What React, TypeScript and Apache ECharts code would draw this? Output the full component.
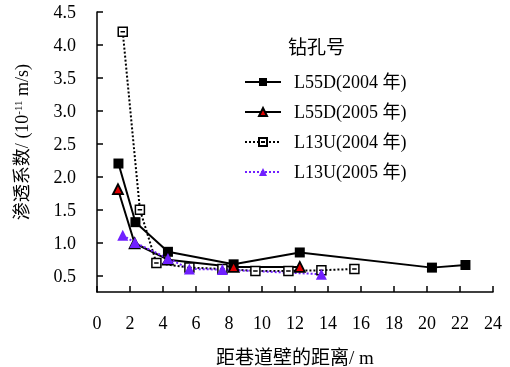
import React, { useEffect, useRef } from "react";
import * as echarts from "echarts";

const xL55D2004 = [1.3, 2.33, 4.3, 8.28, 12.29, 20.3, 22.33];
const yL55D2004 = [2.2, 1.31, 0.86, 0.67, 0.85, 0.62, 0.66];
const xL55D2005 = [1.27, 2.28, 4.3, 8.28, 12.29];
const yL55D2005 = [1.81, 0.99, 0.74, 0.63, 0.63];
const xL13U2004 = [1.56, 2.6, 3.6, 5.6, 7.6, 9.6, 11.6, 13.6, 15.6];
const yL13U2004 = [4.2, 1.5, 0.69, 0.62, 0.6, 0.57, 0.57, 0.58, 0.6];
const xL13U2005 = [1.56, 2.3, 4.3, 5.6, 7.6, 13.6];
const yL13U2005 = [1.11, 1.0, 0.76, 0.6, 0.59, 0.52];

const names = ["L55D(2004 年)", "L55D(2005 年)", "L13U(2004 年)", "L13U(2005 年)"];
const yTicks = [0.5, 1.0, 1.5, 2.0, 2.5, 3.0, 3.5, 4.0, 4.5];

const zip = (xs: number[], ys: number[]) => xs.map((x, i) => [x, ys[i]]);

const FONT = "'Liberation Serif', 'Noto Sans CJK SC', serif";

export default function App() {
  const ref = useRef<HTMLDivElement>(null);
  useEffect(() => {
    const chart = echarts.init(ref.current!, undefined, { renderer: "svg" });
    chart.setOption({
      animation: false,
      grid: { left: 97, right: 17, top: 12, bottom: 75, outerBoundsMode: "none", containLabel: false },
      xAxis: {
        type: "value",
        min: 0,
        max: 24,
        interval: 2,
        splitLine: { show: false },
        axisLine: { lineStyle: { color: "#000", width: 1.5 } },
        axisTick: { inside: true, length: 6, lineStyle: { color: "#000", width: 1.5 } },
        axisLabel: { color: "#000", fontFamily: FONT, fontSize: 18, margin: 22 },
        name: "距巷道壁的距离/ m",
        nameLocation: "middle",
        nameGap: 56,
        nameTextStyle: { color: "#000", fontFamily: FONT, fontSize: 19 },
      },
      yAxis: {
        type: "value",
        min: 0.25,
        max: 4.5,
        interval: 0.25,
        splitLine: { show: false },
        axisLine: { show: true, lineStyle: { color: "#000", width: 1.5 } },
        axisTick: {
          inside: true,
          length: 6,
          customValues: yTicks,
          lineStyle: { color: "#000", width: 1.5 },
        },
        axisLabel: {
          color: "#000",
          fontFamily: FONT,
          fontSize: 18,
          margin: 21,
          customValues: yTicks,
          formatter: (v: number) => v.toFixed(1),
        },
      },
      legend: {
        left: 244,
        top: 73,
        padding: 0,
        orient: "vertical",
        itemWidth: 36,
        itemHeight: 10,
        itemGap: 12,
        data: names,
        textStyle: { color: "#000", fontFamily: FONT, fontSize: 18, padding: [0, 0, 0, 8] },
      },
      graphic: [
        {
          type: "text",
          left: 288,
          top: 38,
          style: { text: "钻孔号", fontSize: 19, fontFamily: FONT, fill: "#000" },
        },
        {
          type: "text",
          x: 22,
          y: 142,
          rotation: Math.PI / 2,
          style: {
            text: "渗透系数/ (10{sup|-11} m/s)",
            fontSize: 18,
            fontFamily: FONT,
            fill: "#000",
            align: "center",
            verticalAlign: "middle",
            rich: {
              sup: { fontSize: 11, verticalAlign: "top", padding: [0, 0, 8, 0], fill: "#000", fontFamily: FONT },
            },
          },
        },
      ],
      series: [
        {
          name: names[0],
          type: "line",
          data: zip(xL55D2004, yL55D2004),
          symbol: "rect",
          symbolSize: 10,
          lineStyle: { color: "#000", width: 2 },
          itemStyle: { color: "#000" },
        },
        {
          name: names[1],
          type: "line",
          data: zip(xL55D2005, yL55D2005),
          symbol: "triangle",
          symbolSize: 10,
          lineStyle: { color: "#000", width: 2 },
          itemStyle: { color: "#e00000", borderColor: "#000", borderWidth: 1.8 },
        },
        {
          name: names[2],
          type: "line",
          data: zip(xL13U2004, yL13U2004),
          symbol: "path://M0 0H10V10H0Z M2.5 5H7.5",
          symbolSize: 9,
          lineStyle: { color: "#000", width: 2, type: [2, 2] },
          itemStyle: { color: "#fff", borderColor: "#000", borderWidth: 1.5 },
        },
        {
          name: names[3],
          type: "line",
          data: zip(xL13U2005, yL13U2005),
          symbol: "triangle",
          symbolSize: 11,
          lineStyle: { color: "#7020ff", width: 2, type: [2, 2] },
          itemStyle: { color: "#7020ff" },
        },
      ],
    });
    return () => chart.dispose();
  }, []);
  return <div ref={ref} style={{ position: "fixed", left: 0, top: 0, width: 510, height: 367 }} />;
}
